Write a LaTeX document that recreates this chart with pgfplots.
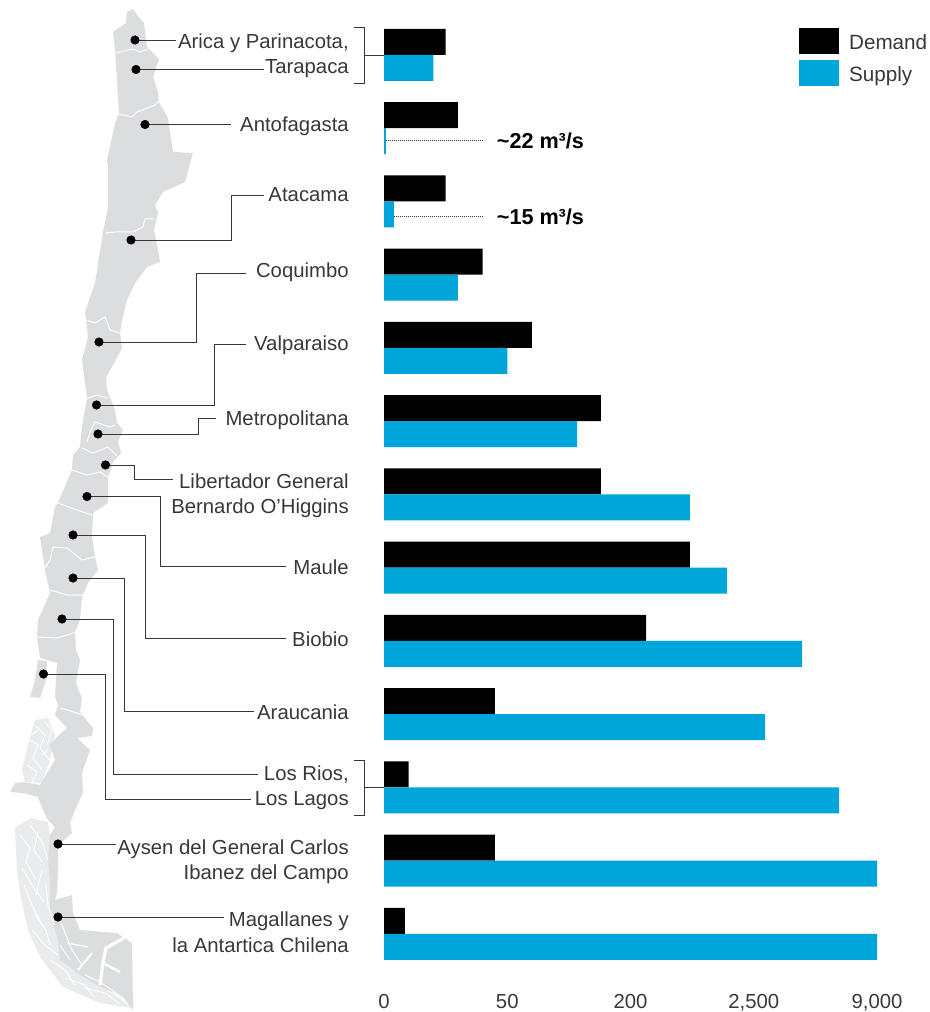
\documentclass[border=0pt]{standalone}
\usepackage{fontspec}
\setmainfont{Liberation Sans}
\usepackage{pgfplots}
\usepackage{pgfplotstable}
\pgfplotsset{compat=1.18}
\definecolor{mapgray}{HTML}{DCDDDF}
\definecolor{archgray}{HTML}{EAEBEC}
\definecolor{supplyblue}{HTML}{00A6D9}
\definecolor{txt}{HTML}{383838}

% demand and supply per region (axis is piecewise: 0,50,200,2500,9000)
\pgfplotstableread{
idx region        demand supply
0   AricaTarapaca 25     20
1   Antofagasta   30     0.8
2   Atacama       25     4
3   Coquimbo      40     30
4   Valparaiso    80     50
5   Metropolitana 164    135
6   OHiggins      164    1310
7   Maule         1310   2000
8   Biobio        490    5045
9   Araucania     45     3093
10  RiosLagos     10     6996
11  Aysen         45     9000
12  Magallanes    8.5    9000
}\regions

\pgfplotsset{
  border/.style={white, line width=0.75pt},
  fjord/.style={white, line width=0.7pt},
  leader/.style={txt, line width=0.7pt},
}
\tikzset{lab/.style={anchor=base east, inner sep=0pt, text=txt, font=\fontsize{15.25}{17}\selectfont}}

\begin{document}
\begin{tikzpicture}
\path[use as bounding box] (0,0) rectangle (697.5pt,759pt);

% map and leader lines, in pixel coordinates of the page
\begin{axis}[
  at={(0,0)}, anchor=south west,
  scale only axis, width=697.5pt, height=759pt,
  xmin=0, xmax=930, ymin=0, ymax=1012, y dir=reverse,
  hide axis, clip=false,
]
% archipelago
\addplot[fill=archgray, draw=none] coordinates {
(35,720) (48,718) (55,735) (50,760) (42,783) (25,782) (22,770) (28,745)};
\addplot[fill=archgray, draw=none] coordinates {
(15,828) (30,818) (48,822) (52,850) (50,880) (52,905) (60,960) (72,970) (100,985) (133,1008)
(100,1003) (63,987) (40,957) (28,930) (20,893) (17,870)};
% mainland
\addplot[fill=mapgray, draw=none] coordinates {
(133,9) (137,15) (144,23) (147,47) (159,59) (153,77) (158,92) (159,102) (168,118) (173,152) (193,153)
(185,182) (163,192) (155,205) (158,213) (154,230) (158,250) (160,262) (147,267) (135,283) (127,300)
(122,320) (120,333) (122,348) (112,367) (106,377) (107,390) (112,402) (115,410) (117,423) (123,430)
(118,442) (121,453) (113,462) (108,477) (108,503) (93,513) (92,537) (95,557) (98,570) (88,583)
(82,597) (80,620) (75,632) (76,650) (80,660) (76,683) (82,698) (80,712) (93,728) (92,736) (77,738)
(90,750) (82,773) (83,793) (75,810) (70,823) (72,833) (58,845) (58,870) (57,893) (55,900) (72,895)
(73,913) (80,930) (117,933) (132,943) (133,1010) (123,997) (93,983) (77,973) (60,960) (57,937)
(50,913) (50,880) (48,860) (50,835) (55,827) (48,820) (42,808) (38,797) (23,793) (10,792) (15,783)
(23,782) (40,785) (50,768) (55,760) (50,745) (57,737) (67,728) (55,715) (58,705) (55,697) (57,663)
(40,658) (37,637) (38,620) (50,593) (45,570) (40,537) (50,533)
(55,507) (58,502) (62,493) (72,470) (73,455) (80,447) (82,427) (87,398) (82,360) (88,337) (85,312)
(95,283) (103,232) (108,207) (108,167) (107,160) (115,123) (119,113) (117,80) (115,50) (113,32)
(126,23) (127,12)};
% Chiloe
\addplot[fill=mapgray, draw=none] coordinates {(38,660) (47,661) (46,680) (40,698) (30,697) (35,680)};
% region borders
\addplot[border] coordinates {(115,53) (133,49) (140,52) (148,49)};
\addplot[border] coordinates {(119,114) (132,117) (137,112) (155,105) (159,101)};
\addplot[border] coordinates {(105,233) (115,232) (133,232) (143,227) (145,219) (155,219)};
\addplot[border] coordinates {(86,320) (95,323) (105,317) (110,330) (120,333)};
\addplot[border] coordinates {(85,399) (97,395) (108,398)};
\addplot[border] coordinates {(82,448) (93,453) (108,447) (117,456)};
\addplot[border] coordinates {(87,442) (90,432) (95,422) (110,427) (115,425)};
\addplot[border] coordinates {(72,470) (87,475) (100,472) (108,477)};
\addplot[border] coordinates {(58,503) (77,510) (92,515)};
\addplot[border] coordinates {(45,568) (50,560) (53,547) (67,548) (82,560) (95,557)};
\addplot[border] coordinates {(50,590) (67,595) (83,595)};
\addplot[border] coordinates {(37,637) (57,638) (77,632)};
\addplot[border] coordinates {(60,708) (68,710) (82,715)};
% fjords, north of the strait
\addplot[fjord] coordinates {(35,725) (45,735) (40,748) (50,760)};
\addplot[fjord] coordinates {(45,722) (52,730) (47,745)};
\addplot[fjord] coordinates {(30,740) (38,745) (33,758) (42,770)};
\addplot[fjord] coordinates {(27,765) (37,772) (32,782)};
\addplot[fjord] coordinates {(38,730) (32,735)};
\addplot[fjord] coordinates {(42,755) (48,750)};
% fjords, south of it
\addplot[fjord] coordinates {(20,835) (30,848) (26,862) (36,880)};
\addplot[fjord] coordinates {(30,825) (42,842) (48,860)};
\addplot[fjord] coordinates {(38,832) (34,850) (42,862)};
\addplot[fjord] coordinates {(22,868) (34,888) (44,902)};
\addplot[fjord] coordinates {(42,870) (36,895)};
\addplot[fjord] coordinates {(24,885) (32,905) (42,925)};
\addplot[fjord] coordinates {(46,885) (48,905) (54,925)};
\addplot[fjord] coordinates {(35,915) (46,930) (50,945)};
\addplot[fjord] coordinates {(32,930) (45,945) (58,955)};
\addplot[fjord] coordinates {(50,960) (65,970) (75,985)};
\addplot[fjord] coordinates {(65,978) (85,985) (95,998)};
\addplot[fjord] coordinates {(85,988) (105,993) (120,1004)};
% fjords of the southern block
\addplot[white, line width=2.4pt] coordinates {(124,938) (106,948) (103,963) (100,985)};
\addplot[white, line width=1.8pt] coordinates {(103,963) (120,972)};
\addplot[white, line width=1.5pt] coordinates {(92,953) (78,970)};
\addplot[white, line width=1pt] coordinates {(67,943) (88,947)};
\addplot[fjord] coordinates {(58,915) (64,930) (72,950) (82,965)};
\addplot[fjord] coordinates {(60,945) (70,960)};
\addplot[fjord] coordinates {(85,975) (100,982) (112,990) (125,1000)};
% leaders
\addplot[leader] coordinates {(135,40) (176,40)};
\addplot[leader] coordinates {(136,69.5) (264,69.5)};
\addplot[leader] coordinates {(145,124.5) (231,124.5)};
\addplot[leader] coordinates {(131,240) (231,240) (231,195) (264,195)};
\addplot[leader] coordinates {(99,342) (196,342) (196,273) (246,273)};
\addplot[leader] coordinates {(96.5,405) (214,405) (214,344.5) (246,344.5)};
\addplot[leader] coordinates {(98,434) (198,434) (198,418) (216,418)};
\addplot[leader] coordinates {(105.5,465) (134,465) (134,479) (173,479)};
\addplot[leader] coordinates {(87,496.5) (160,496.5) (160,566.5) (286,566.5)};
\addplot[leader] coordinates {(73,535) (145.5,535) (145.5,638) (286,638)};
\addplot[leader] coordinates {(73,578) (124.5,578) (124.5,711) (254,711)};
\addplot[leader] coordinates {(62,619) (113.5,619) (113.5,774.5) (258,774.5)};
\addplot[leader] coordinates {(43.5,674) (105,674) (105,799) (251,799)};
\addplot[leader] coordinates {(58,844) (116,844)};
\addplot[leader] coordinates {(58,917) (224,917)};
% brackets
\addplot[leader] coordinates {(354,27) (364,27) (364,83) (354,83)};
\addplot[leader] coordinates {(364,55) (384,55)};
\addplot[leader] coordinates {(354,760) (364,760) (364,815) (354,815)};
\addplot[leader] coordinates {(364,787) (384,787)};
% dots
\addplot[only marks, mark=*, mark size=3.2pt, mark options={fill=black, draw=none}] coordinates {
(135,40) (136,69.5) (145,124.5) (131,240) (99,342) (96.5,405) (98,434) (105.5,465) (87,496.5)
(73,535) (73,578) (62,619) (43.5,674) (58,844) (58,917)};
% labels
\node[lab] at (axis cs:349,49) {Arica y Parinacota,};
\node[lab] at (axis cs:349,74) {Tarapaca};
\node[lab] at (axis cs:349,131.5) {Antofagasta};
\node[lab] at (axis cs:349,202) {Atacama};
\node[lab] at (axis cs:349,277.5) {Coquimbo};
\node[lab] at (axis cs:349,350) {Valparaiso};
\node[lab] at (axis cs:349,425) {Metropolitana};
\node[lab] at (axis cs:349,488) {Libertador General};
\node[lab] at (axis cs:349,513) {Bernardo O'Higgins};
\node[lab] at (axis cs:349,574) {Maule};
\node[lab] at (axis cs:349,646) {Biobio};
\node[lab] at (axis cs:349,719) {Araucania};
\node[lab] at (axis cs:349,780) {Los Rios,};
\node[lab] at (axis cs:349,805) {Los Lagos};
\node[lab] at (axis cs:349,854) {Aysen del General Carlos};
\node[lab] at (axis cs:349,879) {Ibanez del Campo};
\node[lab] at (axis cs:349,926) {Magallanes y};
\node[lab] at (axis cs:349,952) {la Antartica Chilena};
\end{axis}

% bars, x axis spaced evenly between the five tick values
\begin{axis}[
  at={(288pt,31.05pt)}, anchor=south west,
  scale only axis, width=369.75pt, height=714.19pt,
  xmin=0, xmax=9000, ymin=-0.5, ymax=12.5, y dir=reverse,
  x coord trafo/.code={\pgfmathparse{#1<=50 ? #1/50 : (#1<=200 ? 1+(#1-50)/150 : (#1<=2500 ? 2+(#1-200)/2300 : 3+(#1-2500)/6500))}},
  axis line style={draw=none}, tick style={draw=none},
  ytick=\empty,
  xtick={0,50,200,2500,9000},
  xticklabels={0,50,200,{2,500},{9,000}},
  x tick label style={text=txt, font=\fontsize{15.25}{17}\selectfont, yshift=-14pt},
  clip=false,
  legend style={at={(0.842,0.9897)}, anchor=north west, draw=none, fill=none, inner sep=0pt, outer sep=0pt,
    font=\fontsize{15.5}{17}\selectfont, text=txt,
    /tikz/row sep=4.3pt, /tikz/inner ysep=0pt},
  legend cell align=left,
  legend image code/.code={\path[#1] (0pt,-8.25pt) rectangle (30pt,11.25pt); \path (35.5pt,0pt);},
]
\addplot[xbar, bar width=19.5pt, bar shift=9.75pt, fill=black, draw=none] table[x=demand, y=idx] {\regions};
\addlegendentry{Demand}
\addplot[xbar, bar width=19.5pt, bar shift=-9.75pt, fill=supplyblue, draw=none] table[x=supply, y=idx] {\regions};
\addlegendentry{Supply}
% call-outs for the two thin supply bars
\draw[txt, densely dotted, line width=0.5pt] (axis description cs:0.004,0.8715) -- (axis description cs:0.2,0.8715);
\draw[txt, densely dotted, line width=0.5pt] (axis description cs:0.02,0.7917) -- (axis description cs:0.2,0.7917);
\node[anchor=west, inner sep=0pt, font=\bfseries\fontsize{16.2}{18}\selectfont, text=black] at (axis description cs:0.2285,0.8715) {\textasciitilde22 m³/s};
\node[anchor=west, inner sep=0pt, font=\bfseries\fontsize{16.2}{18}\selectfont, text=black] at (axis description cs:0.2285,0.7917) {\textasciitilde15 m³/s};
\end{axis}
\end{tikzpicture}
\end{document}
